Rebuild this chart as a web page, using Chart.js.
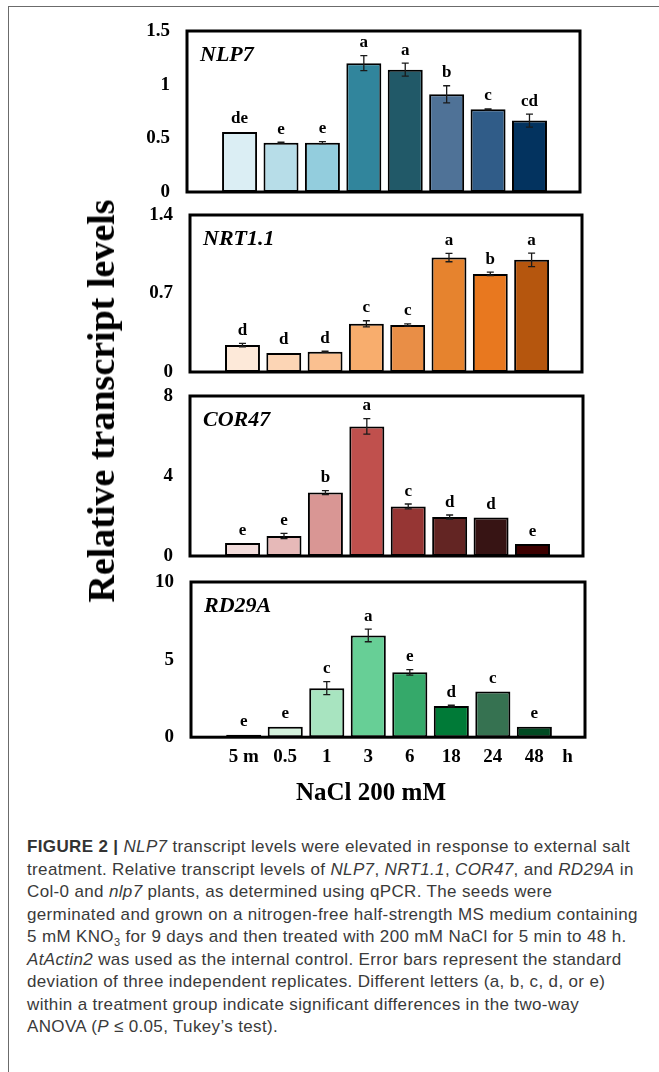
<!DOCTYPE html>
<html><head><meta charset="utf-8">
<script src="https://cdn.jsdelivr.net/npm/chart.js@4"></script>
<style>
body{margin:0;background:#fff;}
#page{position:relative;width:659px;height:1072px;overflow:hidden;background:#fff;}
#box{position:absolute;left:8px;top:6px;width:760px;height:1200px;border:1px solid #6b6b6b;box-sizing:border-box;}
canvas{position:absolute;}
#ytitle{position:absolute;left:101px;top:401px;transform:translate(-50%,-50%) rotate(-90deg);white-space:nowrap;
  font:bold 38px "Liberation Serif","Times New Roman",serif;line-height:1;color:#000;}
#xtitle{position:absolute;left:371px;top:779px;transform:translateX(-50%);white-space:nowrap;
  font:bold 25px "Liberation Serif","Times New Roman",serif;line-height:25px;color:#000;}
#caption{position:absolute;left:27px;top:836px;font:17px "Liberation Sans",Arial,sans-serif;letter-spacing:0.35px;line-height:22.5px;color:#3a3a3a;white-space:nowrap;}
#caption b{font-weight:bold;color:#333;}
</style></head>
<body><div id="page">
<div id="box"></div>
<canvas id="c1"></canvas>
<canvas id="c2"></canvas>
<canvas id="c3"></canvas>
<canvas id="c4"></canvas>
<div id="ytitle">Relative transcript levels</div>
<div id="xtitle">NaCl 200 mM</div>
<div id="caption">
<div><b>FIGURE 2 |</b> <i>NLP7</i> transcript levels were elevated in response to external salt</div>
<div>treatment. Relative transcript levels of <i>NLP7</i>, <i>NRT1.1</i>, <i>COR47</i>, and <i>RD29A</i> in</div>
<div>Col-0 and <i>nlp7</i> plants, as determined using qPCR. The seeds were</div>
<div>germinated and grown on a nitrogen-free half-strength MS medium containing</div>
<div>5 mM KNO<sub style="font-size:11px;line-height:0">3</sub> for 9 days and then treated with 200 mM NaCl for 5 min to 48 h.</div>
<div><i>AtActin2</i> was used as the internal control. Error bars represent the standard</div>
<div>deviation of three independent replicates. Different letters (a, b, c, d, or e)</div>
<div>within a treatment group indicate significant differences in the two-way</div>
<div>ANOVA (<i>P</i> ≤ 0.05, Tukey’s test).</div>
</div>
</div>
<script>
// ---------- data ----------
const categories = ['5 m','0.5','1','3','6','18','24','48'];
const unitLabel = 'h';

const nlp7Values  = [0.56, 0.46, 0.46, 1.20, 1.14, 0.91, 0.77, 0.665];
const nlp7Errors  = [0, 0.005, 0.01, 0.07, 0.06, 0.08, 0.005, 0.06];
const nlp7Letters = ['de','e','e','a','a','b','c','cd'];
const nlp7Ticks   = [0, 0.5, 1, 1.5];
const nlp7TickLabels = ['0','0.5','1','1.5'];

const nrt11Values  = [0.24, 0.17, 0.18, 0.43, 0.42, 1.02, 0.875, 1.00];
const nrt11Errors  = [0.015, 0, 0.005, 0.027, 0.01, 0.037, 0.015, 0.06];
const nrt11Letters = ['d','d','d','c','c','a','b','a'];
const nrt11Ticks   = [0, 0.7, 1.4];
const nrt11TickLabels = ['0','0.7','1.4'];

const cor47Values  = [0.65, 1.0, 3.17, 6.48, 2.48, 1.95, 1.92, 0.6];
const cor47Errors  = [0, 0.13, 0.1, 0.39, 0.12, 0.1, 0, 0];
const cor47Letters = ['e','e','b','a','c','d','d','e'];
const cor47Ticks   = [0, 4, 8];
const cor47TickLabels = ['0','4','8'];

const rd29aValues  = [0.15, 0.67, 3.16, 6.56, 4.18, 2.01, 2.94, 0.67];
const rd29aErrors  = [0, 0, 0.42, 0.41, 0.18, 0.05, 0, 0];
const rd29aLetters = ['e','e','c','a','e','d','c','e'];
const rd29aTicks   = [0, 5, 10];
const rd29aTickLabels = ['0','5','10'];

// ---------- styles ----------
const blues   = ['#dbeef4','#b7dde8','#93cddd','#31859c','#215968','#4f7297','#305c88','#03335f'];
const oranges = ['#fde9d9','#fcd5b5','#fac090','#f8ad6d','#e98e46','#e6832e','#e8781f','#b5560e'];
const reds    = ['#f2dcdb','#e6b9b8','#d99694','#c0504d','#963634','#632523','#371414','#3d0000'];
const greens  = ['#e2f5e9','#d5f2de','#a8e4c0','#67cf96','#35a96a','#007a37','#367251','#004a22'];

const SERIF = '"Liberation Serif","Times New Roman",serif';
const X_MIN = -1.27, X_MAX = 8.22, UNIT_POS = 7.8;
const TICK_SIZE = 19;

const annotPlugin = {
  id: 'annot',
  afterDatasetsDraw(chart, args, o) {
    const {ctx, chartArea: ca, scales: {x, y}} = chart;
    const meta = chart.getDatasetMeta(0);
    ctx.save();
    // frame
    ctx.lineWidth = 3; ctx.strokeStyle = '#000';
    ctx.strokeRect(ca.left, ca.top, ca.right - ca.left, ca.bottom - ca.top);
    // error bars + letters
    ctx.fillStyle = '#000';
    ctx.font = 'bold 17px ' + SERIF;
    ctx.textAlign = 'center'; ctx.textBaseline = 'alphabetic';
    meta.data.forEach((bar, i) => {
      const v = o.values[i], e = o.errors[i];
      const px = bar.x;
      if (e > 0) {
        const yt = y.getPixelForValue(v + e), yb = y.getPixelForValue(v - e);
        ctx.strokeStyle = '#1a1a1a'; ctx.lineWidth = 1.3;
        ctx.beginPath();
        ctx.moveTo(px, yt); ctx.lineTo(px, yb);
        ctx.moveTo(px - 3.5, yt); ctx.lineTo(px + 3.5, yt);
        ctx.moveTo(px - 3.5, yb); ctx.lineTo(px + 3.5, yb);
        ctx.stroke();
      }
      const top = y.getPixelForValue(v + e);
      ctx.fillText(o.letters[i], px, top - 8.5);
    });
    // gene title
    ctx.font = 'italic bold 22px ' + SERIF;
    ctx.textAlign = 'left';
    ctx.fillText(o.gene, ca.left + 13, ca.top + 30);
    // unit label on bottom axis
    if (o.unit) {
      ctx.font = 'bold ' + TICK_SIZE + 'px ' + SERIF;
      ctx.textAlign = 'center'; ctx.textBaseline = 'middle';
      ctx.fillText(o.unit, x.getPixelForValue(UNIT_POS), x.top + 8 + TICK_SIZE * 1.2 / 2);
    }
    ctx.restore();
  }
};

function makePanel(id, geo, gene, values, errors, letters, colors, yTicks, yLabels, showX) {
  const cv = document.getElementById(id);
  cv.width = geo.w; cv.height = geo.h;
  cv.style.left = geo.x + 'px'; cv.style.top = geo.y + 'px';
  cv.style.width = geo.w + 'px'; cv.style.height = geo.h + 'px';
  new Chart(cv, {
    type: 'bar',
    data: {
      datasets: [{
        data: values.map((v, i) => ({x: i, y: v})),
        backgroundColor: colors,
        borderColor: '#000',
        borderWidth: 2,
        borderSkipped: false,
        barPercentage: 0.845,
        categoryPercentage: 1
      }]
    },
    options: {
      responsive: false, animation: false, devicePixelRatio: 1,
      layout: {padding: {top: 14, right: geo.padR, bottom: geo.padB, left: 0}},
      plugins: {
        legend: {display: false}, tooltip: {enabled: false},
        annot: {gene, values, errors, letters, unit: showX ? unitLabel : null}
      },
      scales: {
        x: {
          type: 'linear', min: X_MIN, max: X_MAX, offset: false, display: showX,
          grid: {display: false, drawTicks: false}, border: {display: false},
          afterBuildTicks: s => { s.ticks = categories.map((c, i) => ({value: i})); },
          afterFit: s => { s.paddingLeft = 0; s.paddingRight = 0; },
          ticks: {
            padding: 8, color: '#000', autoSkip: false, maxRotation: 0,
            font: {family: SERIF, size: TICK_SIZE, weight: 'bold'},
            callback: (v, i) => categories[i]
          }
        },
        y: {
          min: yTicks[0], max: yTicks[yTicks.length - 1],
          grid: {display: false, drawTicks: false}, border: {display: false},
          afterBuildTicks: s => { s.ticks = yTicks.map(v => ({value: v})); },
          afterFit: s => { s.width = geo.yW; s.paddingTop = 0; s.paddingBottom = 0; },
          ticks: {
            padding: 17, color: '#000',
            font: {family: SERIF, size: TICK_SIZE, weight: 'bold'},
            callback: (v, i) => yLabels[i]
          }
        }
      }
    },
    plugins: [annotPlugin]
  });
}

makePanel('c1', {x:100, y:17,  w:500, h:189, yW:87, padR:20, padB:14}, 'NLP7',
  nlp7Values, nlp7Errors, nlp7Letters, blues, nlp7Ticks, nlp7TickLabels, false);
makePanel('c2', {x:100, y:201, w:500, h:185, yW:90, padR:18, padB:14}, 'NRT1.1',
  nrt11Values, nrt11Errors, nrt11Letters, oranges, nrt11Ticks, nrt11TickLabels, false);
makePanel('c3', {x:100, y:382, w:500, h:188, yW:90, padR:17, padB:14}, 'COR47',
  cor47Values, cor47Errors, cor47Letters, reds, cor47Ticks, cor47TickLabels, false);
makePanel('c4', {x:100, y:568, w:500, h:212, yW:91, padR:15, padB:4}, 'RD29A',
  rd29aValues, rd29aErrors, rd29aLetters, greens, rd29aTicks, rd29aTickLabels, true);
</script>
</body></html>
